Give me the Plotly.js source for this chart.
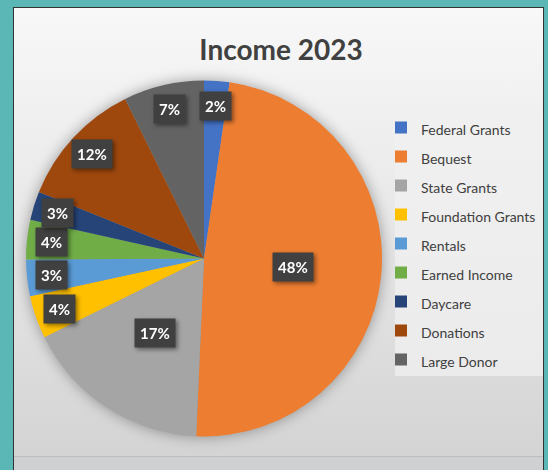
<!DOCTYPE html>
<html>
<head>
<meta charset="utf-8">
<script src="https://cdn.plot.ly/plotly-3.0.1.min.js"></script>
<style>
  html, body { margin: 0; padding: 0; width: 548px; height: 470px; overflow: hidden; background: #5bb6b6; }
  #panel { position: absolute; left: 13px; top: 7px; width: 531px; height: 470px;
           border: 1px solid #333; box-sizing: border-box;
           background: linear-gradient(to bottom, #f8f8f8 0%, #e8e8e8 45%, #d4d4d4 95%); }
  #band { position: absolute; left: 14px; top: 456px; width: 529px; height: 20px; background: #cfd0d2; border-top: 1px solid #bdbdbd; }
  #chart { position: absolute; left: 0; top: 0; width: 548px; height: 470px; }
  #chart .pielayer .trace { filter: drop-shadow(0 0 7px rgba(0,0,0,0.35)); }
  #chart .annotation-text-g { filter: drop-shadow(2px 2px 2px rgba(0,0,0,0.45)); }
</style>
</head>
<body>
<div id="panel"></div>
<div id="band"></div>
<div id="chart"></div>
<script>
const categories = ["Federal Grants", "Bequest", "State Grants", "Foundation Grants", "Rentals", "Earned Income", "Daycare", "Donations", "Large Donor"];
const incomeShare = [2.3, 48.4, 17.0, 3.9, 3.3, 3.6, 2.6, 11.6, 7.3];
const sliceColors = ["#4472C4", "#ED7D31", "#A5A5A5", "#FFC000", "#5B9BD5", "#70AD47", "#264478", "#9E480E", "#636363"];
const chartTitle = "Income 2023";

const W = 548, H = 470;
const cxPx = 204, cyPx = 258.5, rPx = 178;

const legendLabels = categories.map(c => '<span style="font-size:14px">' + c + '</span>');

const trace = {
  type: 'pie',
  labels: legendLabels,
  values: incomeShare,
  sort: false,
  direction: 'clockwise',
  rotation: 0,
  marker: { colors: sliceColors, line: { width: 0 } },
  textinfo: 'none',
  hoverinfo: 'skip',
  domain: { x: [(cxPx - rPx) / W, (cxPx + rPx) / W], y: [1 - (cyPx + rPx) / H, 1 - (cyPx - rPx) / H] }
};

// data labels positioned from slice mid-angles
const total = incomeShare.reduce((a, b) => a + b, 0);
let cum = 0;
const annotations = incomeShare.map(v => {
  const mid = (cum + v / 2) / total * 2 * Math.PI;
  cum += v;
  const f = (v / total) >= 0.15 ? 0.5 : 0.86;
  const px = cxPx + f * rPx * Math.sin(mid);
  const py = cyPx - f * rPx * Math.cos(mid);
  return {
    xref: 'paper', yref: 'paper', x: px / W, y: 1 - py / H,
    xanchor: 'center', yanchor: 'middle',
    text: '<b>' + Math.round(v / total * 100) + '%</b>',
    showarrow: false,
    bgcolor: '#404040',
    borderpad: 5,
    font: { family: 'Lato, Open Sans, sans-serif', size: 15, color: '#ffffff' }
  };
});

const layout = {
  width: W, height: H,
  margin: { l: 0, r: 0, t: 0, b: 0 },
  paper_bgcolor: 'rgba(0,0,0,0)',
  plot_bgcolor: 'rgba(0,0,0,0)',
  title: {
    text: '<b>' + chartTitle + '</b>',
    x: 281 / W, xanchor: 'center',
    y: 1 - 50 / H, yanchor: 'middle',
    font: { family: 'Lato, Open Sans, sans-serif', size: 28, color: '#404040' }
  },
  showlegend: true,
  legend: {
    x: 381 / W, xanchor: 'left',
    y: 1 - 108 / H, yanchor: 'top',
    bgcolor: 'rgba(0,0,0,0)',
    font: { family: 'Lato, Open Sans, sans-serif', size: 20, color: '#404040' },
    traceorder: 'normal'
  },
  shapes: [{
    type: 'rect', xref: 'paper', yref: 'paper', layer: 'below',
    x0: 395 / W, x1: 543 / W, y0: 1 - 376 / H, y1: 1 - 113 / H,
    fillcolor: 'rgba(240,240,240,0.75)', line: { width: 0 }
  }],
  annotations: annotations
};

Plotly.newPlot('chart', [trace], layout, { displayModeBar: false, staticPlot: true });
</script>
</body>
</html>
